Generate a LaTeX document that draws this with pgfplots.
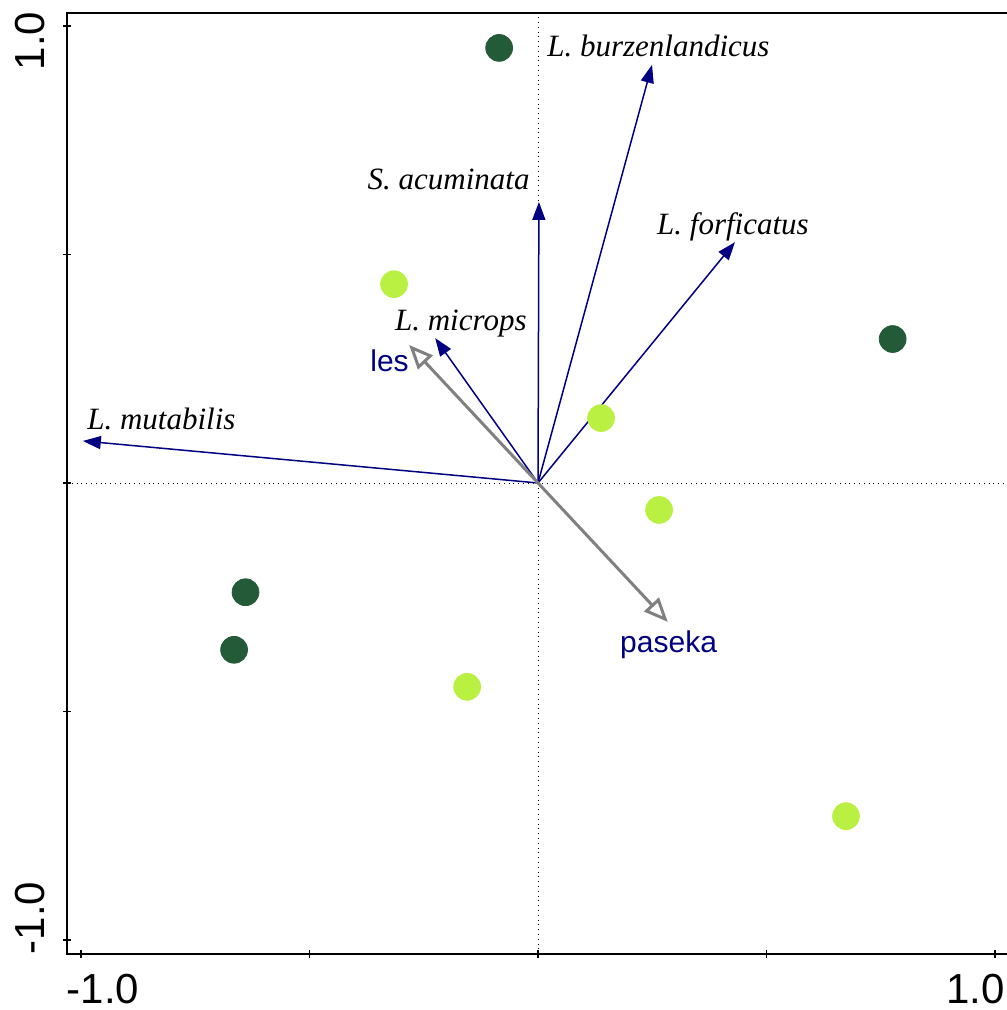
\documentclass[border=0pt]{standalone}
\usepackage{fontspec}
\setmainfont{Liberation Serif}
\setsansfont{Liberation Sans}
\usepackage{pgfplots}
\pgfplotsset{compat=1.18}
\usetikzlibrary{arrows.meta}
\definecolor{navyc}{RGB}{0,0,128}
\definecolor{darkg}{RGB}{35,90,55}
\definecolor{lightg}{RGB}{185,240,65}
\definecolor{arrgray}{RGB}{128,128,128}
\begin{document}
\begin{tikzpicture}
\begin{axis}[
  scale only axis, width=471pt, height=470.5pt,
  xmin=-1.0306, xmax=1.0306, ymin=-1.0306, ymax=1.0284,
  axis line style={line width=0.7pt},
  tick align=center, tick pos=left,
  major tick length=4pt,
  tick style={line width=0.6pt, black},
  xtick={-1,-0.5,0,0.5,1}, ytick={-1,-0.5,0,0.5,1},
  xticklabels={\mbox{\makebox[0pt][l]{\hspace{-7pt}-1.0}},,,,\mbox{\makebox[0pt][r]{1.0\hspace{-5pt}}}},
  yticklabels={\mbox{\makebox[0pt][l]{\hspace{-7pt}-1.0}},,,,\mbox{\makebox[0pt][r]{1.0\hspace{-7pt}}}},
  ticklabel style={font=\fontsize{21}{21}\selectfont\sffamily, inner sep=0pt},
  xticklabel style={anchor=north},
  yticklabel style={rotate=90, anchor=south},
  xticklabel shift=8pt, yticklabel shift=9pt,
  clip=false,
]
% zero lines
\addplot[black, line width=0.4pt, dotted] coordinates {(-1.0306,0) (1.0306,0)};
\addplot[black, line width=0.4pt, dotted] coordinates {(0,-1.0306) (0,1.0284)};
% species arrows
\addplot[navyc, line width=0.75pt, -{Triangle[length=9pt,width=6.5pt]}] coordinates {(0,0) (0.2495,0.915)};
\addplot[navyc, line width=0.75pt, -{Triangle[length=9pt,width=6.5pt]}] coordinates {(0,0) (0.002,0.615)};
\addplot[navyc, line width=0.75pt, -{Triangle[length=9pt,width=6.5pt]}] coordinates {(0,0) (0.431,0.527)};
\addplot[navyc, line width=0.75pt, -{Triangle[length=9pt,width=6.5pt]}] coordinates {(0,0) (-0.225,0.317)};
\addplot[navyc, line width=0.75pt, -{Triangle[length=9pt,width=6.5pt]}] coordinates {(0,0) (-0.996,0.092)};
% environmental arrows
\addplot[arrgray, line width=1.5pt, -{Triangle[open,length=12pt,width=10pt]}] coordinates {(0,0) (-0.282,0.302)};
\addplot[arrgray, line width=1.5pt, -{Triangle[open,length=12pt,width=10pt]}] coordinates {(0,0) (0.284,-0.304)};
% samples
\addplot[only marks, mark=*, mark size=6.7pt, draw=darkg, fill=darkg] coordinates {
  (-0.085,0.952) (0.776,0.315) (-0.640,-0.239) (-0.665,-0.365)};
\addplot[only marks, mark=*, mark size=6.7pt, draw=lightg, fill=lightg] coordinates {
  (-0.315,0.435) (0.138,0.142) (0.265,-0.059) (-0.155,-0.446) (0.674,-0.729)};
% labels
\begin{scope}[every node/.style={font=\fontsize{15.5}{15.5}\selectfont\itshape, inner sep=0pt}]
\node[anchor=base west] at (axis cs:0.0197,0.934) {L. burzenlandicus};
\node[anchor=base east] at (axis cs:-0.0175,0.643) {S. acuminata};
\node[anchor=base west] at (axis cs:0.260,0.543) {L. forficatus};
\node[anchor=base west] at (axis cs:-0.987,0.116) {L. mutabilis};
\node[anchor=base east] at (axis cs:-0.024,0.333) {L. microps};
\end{scope}
\begin{scope}[every node/.style={font=\fontsize{15}{15}\selectfont\sffamily, inner sep=0pt, text=navyc}]
\node[anchor=base east] at (axis cs:-0.282,0.243) {les};
\node[anchor=base west] at (axis cs:0.179,-0.370) {paseka};
\end{scope}
\end{axis}
\pgfresetboundingbox
\useasboundingbox (-33.5pt,-28pt) rectangle (469.5pt,477pt);
\end{tikzpicture}
\end{document}
